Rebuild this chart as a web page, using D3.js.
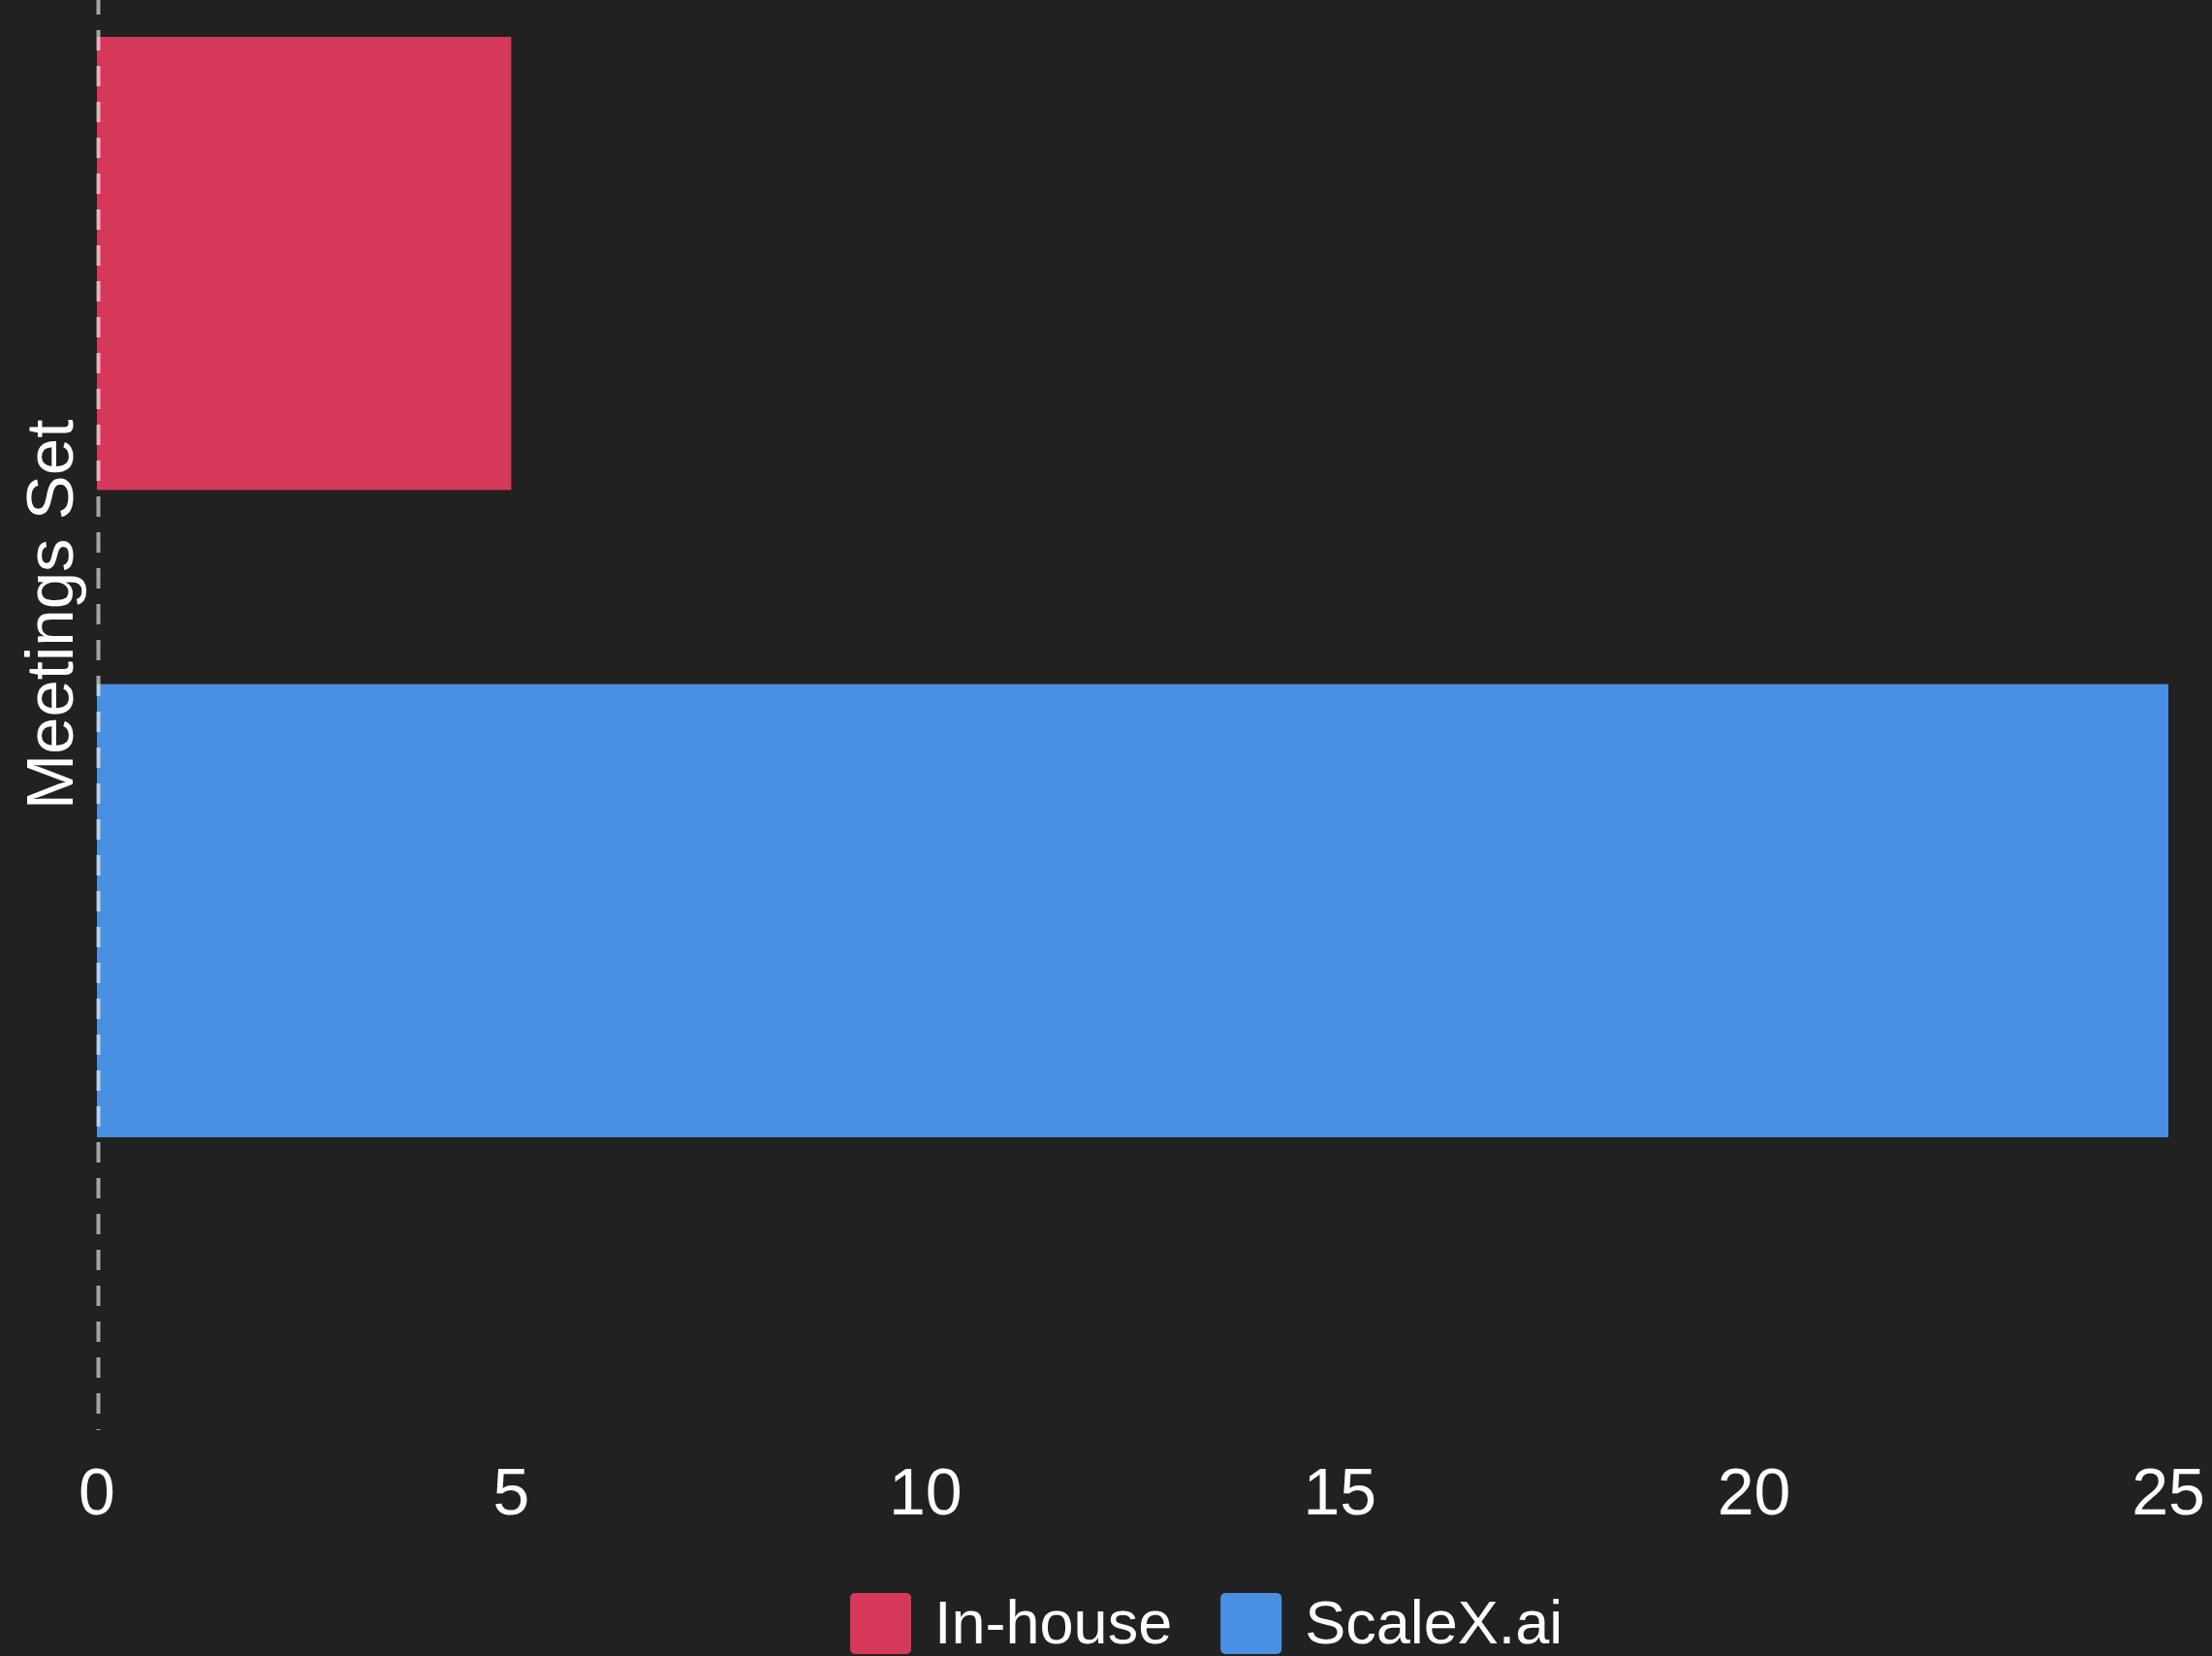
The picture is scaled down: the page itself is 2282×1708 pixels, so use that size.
<!DOCTYPE html>
<html>
<head>
<meta charset="utf-8">
<script src="https://cdn.jsdelivr.net/npm/d3@7"></script>
<style>
  html, body { margin: 0; padding: 0; background: #212121; }
  svg { display: block; }
  text { font-family: "Liberation Sans", Arial, sans-serif; fill: #ffffff; }
</style>
</head>
<body>
<div id="chart-area"></div>
<script>
// data
var category = "Meetings Set";
var seriesNames = ["In-house", "ScaleX.ai"];
var seriesValues = [5, 25];
var seriesColors = ["#d63859", "#4a90e2"];
var xTicks = [0, 5, 10, 15, 20, 25];

var width = 2282,
    height = 1708;

var svg = d3.select("#chart-area")
    .append("svg")
    .attr("width", width)
    .attr("height", height);

svg.append("rect")
    .attr("width", width)
    .attr("height", height)
    .attr("fill", "#212121");

var x = d3.scaleLinear()
    .domain([0, 25])
    .range([100, 2237]);

// one category, two series stacked as sub-bands
var y = d3.scaleBand()
    .domain(seriesNames)
    .range([38, 1173])
    .paddingInner(0.3)
    .paddingOuter(0);

var rows = seriesNames.map(function(d, i) {
    return {name: d, value: seriesValues[i], color: seriesColors[i]};
});

svg.selectAll(".bar")
    .data(rows)
    .enter().append("rect")
    .attr("class", "bar")
    .attr("x", x(0))
    .attr("y", function(d) { return y(d.name); })
    .attr("width", function(d) { return x(d.value) - x(0); })
    .attr("height", y.bandwidth())
    .attr("fill", function(d) { return d.color; });

// zero line, dashed, on top of the bars
svg.append("line")
    .attr("x1", x(0) + 1.5)
    .attr("x2", x(0) + 1.5)
    .attr("y1", -6)
    .attr("y2", 1475)
    .attr("stroke", "rgba(255,255,255,0.6)")
    .attr("stroke-width", 4)
    .attr("stroke-dasharray", "21,16");

// x tick labels
svg.selectAll(".tick-label")
    .data(xTicks)
    .enter().append("text")
    .attr("class", "tick-label")
    .attr("x", function(d) { return x(d); })
    .attr("y", 1562)
    .attr("text-anchor", "middle")
    .style("font-size", "68px")
    .text(function(d) { return d; });

// category label, rotated
svg.append("text")
    .attr("transform", "translate(75," + 634 + ")rotate(-90)")
    .attr("text-anchor", "middle")
    .style("font-size", "69px")
    .text(category);

// legend
var legend = svg.append("g").attr("class", "legend");
var lx = 877;
rows.forEach(function(d) {
    legend.append("rect")
        .attr("x", lx)
        .attr("y", 1643)
        .attr("width", 63)
        .attr("height", 63)
        .attr("rx", 5)
        .attr("fill", d.color);
    var t = legend.append("text")
        .attr("x", lx + 87)
        .attr("y", 1695)
        .style("font-size", "63px")
        .text(d.name);
    lx = lx + 87 + t.node().getComputedTextLength() + 50;
});
</script>
</body>
</html>
